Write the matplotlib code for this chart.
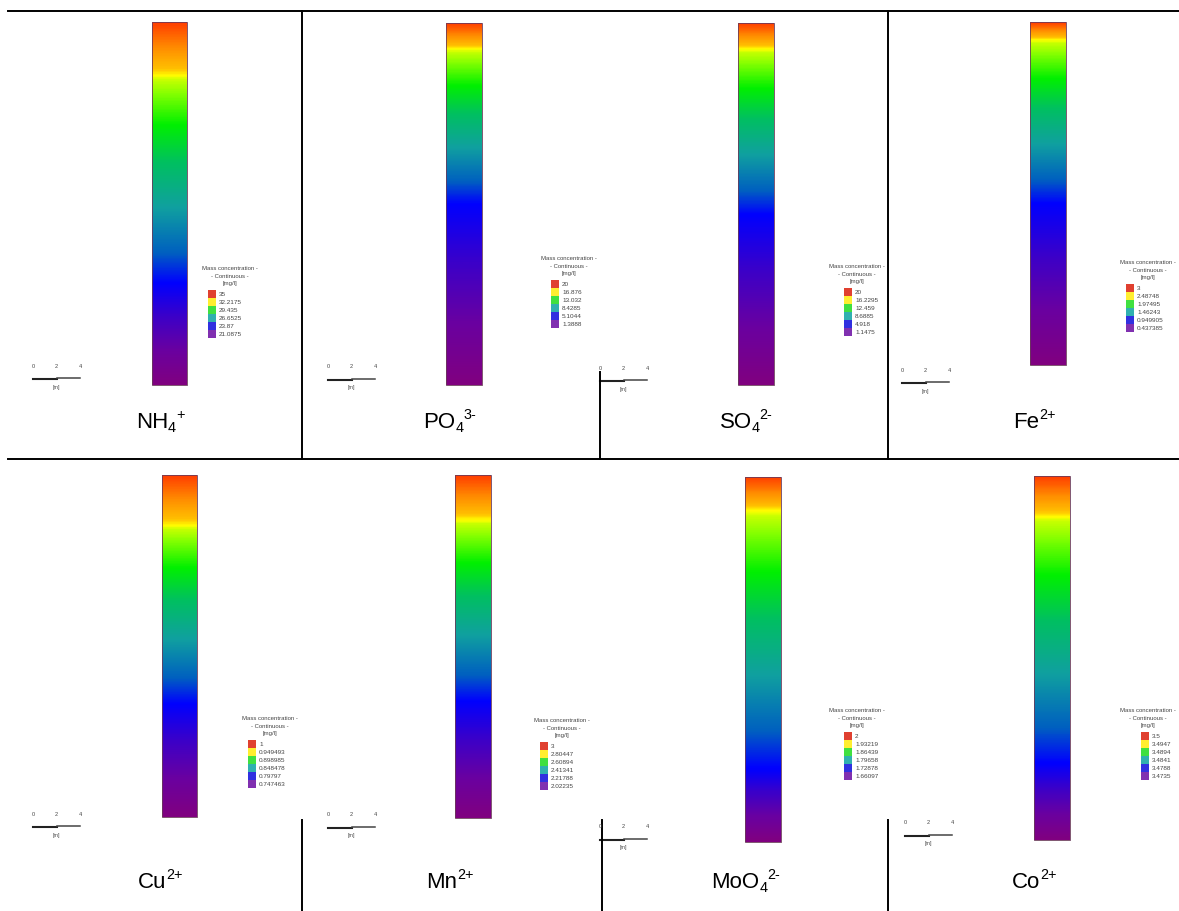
import matplotlib.pyplot as plt
import numpy as np
from matplotlib.colors import LinearSegmentedColormap
from matplotlib.patches import Rectangle

plt.rcParams["font.family"] = ["Liberation Sans", "DejaVu Sans"]

# species shown in the table (row-major order): base, subscript, superscript
species_base = ["NH", "PO", "SO", "Fe", "Cu", "Mn", "MoO", "Co"]
species_sub = ["4", "4", "4", "", "", "", "4", ""]
species_sup = ["+", "3-", "2-", "2+", "2+", "2+", "2-", "2+"]

# legend values [mg/l]
legend_values = [
    ["35", "32.2175", "29.435", "26.6525", "23.87", "21.0875"],
    ["20", "16.876", "13.032", "8.4285", "5.1044", "1.3888"],
    ["20", "16.2295", "12.459", "8.6885", "4.918", "1.1475"],
    ["3", "2.48748", "1.97495", "1.46243", "0.949905", "0.437385"],
    ["1", "0.949493", "0.898985", "0.848478", "0.79797", "0.747463"],
    ["3", "2.80447", "2.60894", "2.41341", "2.21788", "2.02235"],
    ["2", "1.93219", "1.86439", "1.79658", "1.72878", "1.66097"],
    ["3.5", "3.4947", "3.4894", "3.4841", "3.4788", "3.4735"],
]

# depth fraction of the yellow band and of the blue band in each column
yellow_depth = [0.146, 0.07, 0.07, 0.05, 0.146, 0.13, 0.09, 0.11]
blue_depth = [0.72, 0.50, 0.53, 0.53, 0.67, 0.66, 0.80, 0.79]

cmap = LinearSegmentedColormap.from_list("conc", [
    (0.00, "#800080"), (0.10, "#6a00a0"), (0.20, "#3c00c8"), (0.30, "#0000ff"),
    (0.38, "#0060c0"), (0.50, "#10a0a0"), (0.62, "#00c060"), (0.72, "#00f000"),
    (0.80, "#80ff00"), (0.84, "#c8ff00"), (0.85, "#ffff00"), (0.87, "#ffc000"),
    (0.93, "#ff8c00"), (1.00, "#ff4000")])
swatch_colors = ["#e04030", "#ffee30", "#40e040", "#30b0b0", "#3030e0", "#8030b0"]

# layout in pixels: column box, legend anchor, scale bar anchor, label, cell bounds
columns = [(152, 187, 22, 385), (446, 482, 23, 385), (738, 774, 23, 385), (1030, 1066, 22, 365),
           (162, 197, 475, 817), (455, 491, 475, 818), (745, 781, 477, 842), (1034, 1070, 476, 840)]
legend_xy = [(208, 268), (551, 258), (844, 266), (1126, 262),
             (248, 718), (540, 720), (844, 710), (1141, 710)]
scale_xy = [(33, 366), (328, 367), (600, 368), (902, 370),
            (33, 814), (328, 815), (600, 827), (905, 823)]
label_xy = [(160, 422), (450, 422), (746, 422), (1034, 422),
            (160, 882), (450, 882), (746, 882), (1034, 882)]
cells = [(0, 302), (302, 600), (600, 888), (888, 1179),
         (0, 302), (302, 602), (602, 888), (888, 1179)]

fig = plt.figure(figsize=(11.79, 9.11), dpi=100)
ax = fig.add_axes([0, 0, 1, 1])
ax.set_xlim(0, 1179)
ax.set_ylim(911, 0)
ax.axis("off")
renderer = fig.canvas.get_renderer()


def ion_label(x, y, base, sub, sup, size=16):
    # lay out base + subscript + superscript side by side, then centre the group on x
    parts = [ax.text(0, y, base, fontsize=size, ha="left", va="center")]
    offsets = [0.0]
    width = parts[0].get_window_extent(renderer).width
    if sub:
        t = ax.text(0, y + 6, sub, fontsize=size * 0.65, ha="left", va="center")
        parts.append(t)
        offsets.append(width)
        width += t.get_window_extent(renderer).width
    t = ax.text(0, y - 7, sup, fontsize=size * 0.65, ha="left", va="center")
    parts.append(t)
    offsets.append(width)
    width += t.get_window_extent(renderer).width
    for t, off in zip(parts, offsets):
        t.set_x(x - width / 2 + off)


depth = np.linspace(0, 1, 400)[:, None]
for i in range(8):
    left, right, top, bottom = columns[i]
    value = np.interp(depth, [0, yellow_depth[i], blue_depth[i], 1], [1, 0.85, 0.30, 0])
    ax.imshow(value, cmap=cmap, vmin=0, vmax=1, extent=(left, right, bottom, top),
              aspect="auto", interpolation="bilinear", zorder=2)
    ax.add_patch(Rectangle((left, top), right - left, bottom - top, fill=False,
                           edgecolor="#6a3a5a", linewidth=0.6, zorder=3))

    row_top = 11 if i < 4 else 459
    clip = Rectangle((cells[i][0], row_top), cells[i][1] - cells[i][0] - 2, 400,
                     transform=ax.transData, visible=False)
    ax.add_patch(clip)

    lx, ly = legend_xy[i]
    title_x = min(lx + 22, cells[i][1] - 31)
    for j, line in enumerate(["Mass concentration -", "- Continuous -", "[mg/l]"]):
        t = ax.text(title_x, ly + j * 8, line, fontsize=4.3, color="#444444",
                    ha="center", va="center")
        t.set_clip_path(clip)
    for j, val in enumerate(legend_values[i]):
        y = ly + 26 + j * 8
        ax.add_patch(Rectangle((lx, y - 3.8), 8, 7.6, facecolor=swatch_colors[j],
                               edgecolor="none", zorder=2))
        t = ax.text(lx + 11, y, val, fontsize=4.6, color="#444444", ha="left", va="center")
        t.set_clip_path(clip)

    sx, sy = scale_xy[i]
    for j, tick in enumerate(["0", "2", "4"]):
        ax.text(sx + j * 23.5, sy, tick, fontsize=4, color="#444444", ha="center", va="center")
    ax.plot([sx, sx + 24], [sy + 13, sy + 13], color="#222222", linewidth=1.5)
    ax.plot([sx + 24, sx + 47], [sy + 12, sy + 12], color="#444444", linewidth=1.1)
    ax.text(sx + 23.5, sy + 21, "[m]", fontsize=3.8, color="#444444", ha="center", va="center")

    ion_label(label_xy[i][0], label_xy[i][1], species_base[i], species_sub[i], species_sup[i])

# table rules
rule = dict(color="black", linewidth=1.4)
ax.plot([8, 1179], [11, 11], **rule)
ax.plot([8, 1179], [459, 459], **rule)
ax.plot([302, 302], [11, 459], **rule)
ax.plot([600, 600], [372, 459], **rule)
ax.plot([888, 888], [11, 459], **rule)
ax.plot([302, 302], [820, 911], **rule)
ax.plot([602, 602], [820, 911], **rule)
ax.plot([888, 888], [820, 911], **rule)

fig.savefig("out.png", dpi=100)
